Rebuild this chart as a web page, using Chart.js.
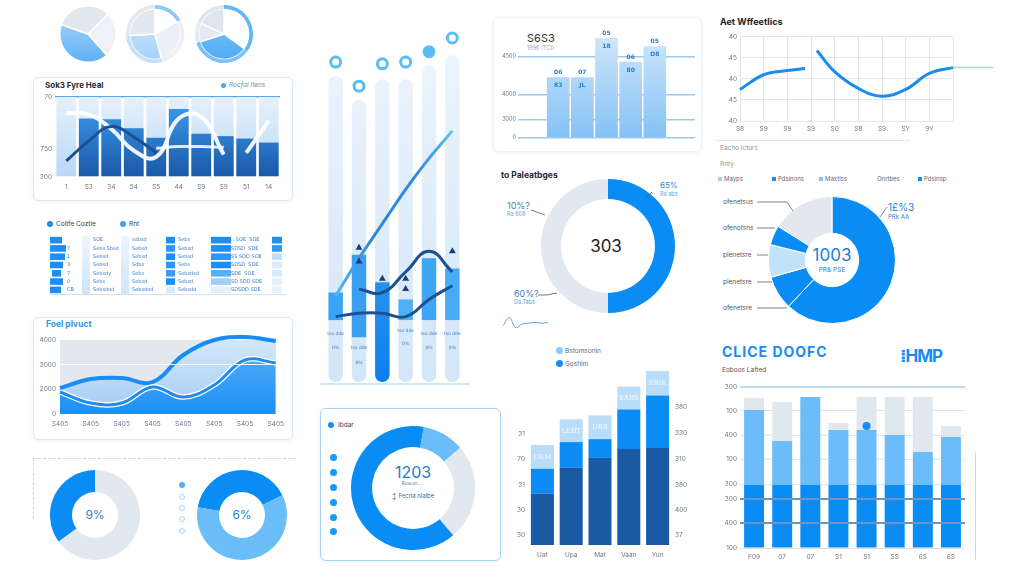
<!DOCTYPE html>
<html>
<head>
<meta charset="utf-8">
<script src="https://cdn.jsdelivr.net/npm/chart.js@4.4.1/dist/chart.umd.min.js"></script>
<style>
body{margin:0;width:1011px;height:578px;background:#fff;position:relative;overflow:hidden;font-family:'Inter','DejaVu Sans',sans-serif;}
.card{position:absolute;border:1px solid #dbe7f3;border-radius:6px;background:#fff;box-shadow:0 1px 4px rgba(70,130,200,0.10);}
.t{position:absolute;white-space:nowrap;line-height:1;}
.c{transform:translate(-50%,-50%);}
.dot{position:absolute;border-radius:50%;}
canvas{position:absolute;}
</style>
</head>
<body>
<!-- panels -->
<div class="card" style="left:33px;top:77px;width:258px;height:122px;"></div>
<div class="card" style="left:33px;top:317px;width:258px;height:121px;"></div>
<div class="card" style="left:493px;top:17px;width:207px;height:133px;border-color:#edf2f8;"></div>
<div class="card" style="left:320px;top:408px;width:179px;height:151px;border-color:#a9d3f3;"></div>
<div style="position:absolute;left:33px;top:458px;width:262px;height:60px;border-top:1px dashed #ccd6e2;border-left:1px dashed #ccd6e2;"></div>
<div style="position:absolute;left:715px;top:140px;width:195px;height:1px;background:#e3e7ec;"></div>
<div style="position:absolute;left:50px;top:294px;width:236px;height:1px;background:#cfe3f6;"></div>
<div style="position:absolute;left:320px;top:383px;width:150px;height:2px;background:#cfe6fa;"></div>
<div style="position:absolute;left:975px;top:452px;width:1px;height:108px;background:#bfdcf4;"></div>

<!-- texts -->
<div class="t" style="left:45px;top:81px;font-size:8px;font-weight:bold;color:#1f2937;">Sok3 Fyre Heal</div>
<div class="dot" style="left:221px;top:83px;width:5px;height:5px;background:#4aa7f0;"></div>
<div class="t" style="left:229px;top:82px;font-size:6.5px;font-style:italic;color:#7d8ca0;">Rocfal Itens</div>

<div class="dot" style="left:47px;top:221px;width:6px;height:6px;background:#1a8cf0;"></div>
<div class="t" style="left:56px;top:221px;font-size:6.5px;color:#334155;">Coltfe Coztle</div>
<div class="dot" style="left:120px;top:221px;width:6px;height:6px;background:#3aa2f2;"></div>
<div class="t" style="left:129px;top:221px;font-size:6.5px;color:#334155;">Rnt</div>

<div class="t" style="left:46px;top:320px;font-size:8.5px;font-weight:bold;color:#2f95e8;">Foel plvuct</div>

<div class="t" style="left:527px;top:33px;font-size:11px;color:#333;">S6S3</div>
<div class="t" style="left:527px;top:46px;font-size:5.5px;color:#9aa5b1;">1996 (TCI)</div>

<div class="t" style="left:720px;top:17px;font-size:9px;font-weight:bold;color:#222;">Aet Wffeetlics</div>
<div class="t" style="left:720px;top:145px;font-size:6.5px;color:#8a96a5;">Eacho lctors</div>
<div class="t" style="left:720px;top:161px;font-size:6.5px;color:#8a96a5;">Rnty</div>
<div style="position:absolute;left:718px;top:177px;width:4px;height:4px;background:#9fd0f7;"></div>
<div class="t" style="left:724px;top:176px;font-size:6px;color:#667;">Mayps</div>
<div style="position:absolute;left:772px;top:177px;width:4px;height:4px;background:#1a8cf0;"></div>
<div class="t" style="left:778px;top:176px;font-size:6px;color:#667;">Pdsinons</div>
<div style="position:absolute;left:819px;top:177px;width:4px;height:4px;background:#7fc2f5;"></div>
<div class="t" style="left:825px;top:176px;font-size:6px;color:#667;">Maxtlss</div>
<div class="t" style="left:877px;top:176px;font-size:6px;color:#667;">Onrtbes</div>
<div style="position:absolute;left:918px;top:177px;width:4px;height:4px;background:#1a8cf0;"></div>
<div class="t" style="left:924px;top:176px;font-size:6px;color:#667;">Pdsinsp</div>

<div class="t" style="left:501px;top:171px;font-size:8.5px;font-weight:bold;color:#1f2937;">to Paleatbges</div>
<div class="t c" style="left:606px;top:246px;font-size:17px;color:#222;">303</div>
<div class="t" style="left:507px;top:201px;font-size:9px;color:#3b82c4;">10%?</div>
<div class="t" style="left:507px;top:212px;font-size:5.5px;color:#5aa3e0;">Ra 608</div>
<div class="t" style="left:514px;top:289px;font-size:9px;color:#3b82c4;">60%?</div>
<div class="t" style="left:514px;top:300px;font-size:5.5px;color:#5aa3e0;">Da.Tabs</div>
<div class="t" style="left:660px;top:181px;font-size:8px;color:#3b82c4;">65%</div>
<div class="t" style="left:660px;top:192px;font-size:5.5px;color:#5aa3e0;">Ba abs</div>

<div class="t c" style="left:832px;top:255px;font-size:17px;color:#1f7fd6;">1003</div>
<div class="t c" style="left:832px;top:270px;font-size:6.5px;color:#2a86da;">PR&amp; PSE</div>
<div class="t" style="left:723px;top:199px;font-size:6.5px;color:#555;">ofenetsus</div>
<div class="t" style="left:723px;top:225px;font-size:6.5px;color:#555;">ofenotsns</div>
<div class="t" style="left:723px;top:252px;font-size:6.5px;color:#555;">plenetsre</div>
<div class="t" style="left:723px;top:279px;font-size:6.5px;color:#555;">plenetsre</div>
<div class="t" style="left:723px;top:305px;font-size:6.5px;color:#555;">ofenetsre</div>
<div class="t" style="left:888px;top:202px;font-size:10px;color:#1a7fd8;">1£%3</div>
<div class="t" style="left:888px;top:214px;font-size:6px;color:#2a86da;">PRk AA</div>

<div class="dot" style="left:556px;top:347px;width:7px;height:7px;background:#8acbf7;"></div>
<div class="t" style="left:565px;top:348px;font-size:6.5px;color:#5a6b80;">Bstomsonin</div>
<div class="dot" style="left:556px;top:360px;width:7px;height:7px;background:#1a8cf0;"></div>
<div class="t" style="left:565px;top:361px;font-size:6.5px;color:#5a6b80;">Goshim</div>

<div class="t" style="left:722px;top:345px;font-size:14px;font-weight:bold;letter-spacing:1px;color:#1a8cf0;">CLICE DOOFC</div>
<div class="t" style="left:722px;top:367px;font-size:6.5px;color:#555;">Eoboos Lafted</div>
<div class="t" style="left:900px;top:348px;font-size:17px;font-weight:bold;color:#1a8cf0;letter-spacing:-1px;">⁞HMP</div>

<div class="dot" style="left:328px;top:422px;width:6px;height:6px;background:#1a8cf0;"></div>
<div class="t" style="left:338px;top:422px;font-size:6.5px;color:#334155;">Ibdar</div>
<div class="dot" style="left:330px;top:454px;width:7px;height:7px;background:#1a9af4;"></div>
<div class="dot" style="left:330px;top:469px;width:7px;height:7px;background:#1a9af4;"></div>
<div class="dot" style="left:330px;top:484px;width:7px;height:7px;background:#1a9af4;"></div>
<div class="dot" style="left:330px;top:499px;width:7px;height:7px;background:#1a9af4;"></div>
<div class="dot" style="left:330px;top:514px;width:7px;height:7px;background:#1a9af4;"></div>
<div class="dot" style="left:330px;top:528px;width:7px;height:7px;background:#1a9af4;"></div>
<div class="t c" style="left:413px;top:472px;font-size:16px;color:#1a7fd6;">1203</div>
<div class="t c" style="left:413px;top:484px;font-size:4.5px;color:#6b7a8c;">Reacen.....</div>
<div class="t c" style="left:413px;top:496px;font-size:6px;color:#4b6b90;">↕ Fecna nlalbe</div>

<div class="t c" style="left:95px;top:515px;font-size:12px;color:#2a7fd0;">9%</div>
<div class="t c" style="left:242px;top:515px;font-size:12px;color:#2a7fd0;">6%</div>
<div class="dot" style="left:179px;top:482px;width:6px;height:6px;background:#4eb0f5;"></div>
<div class="dot" style="left:179px;top:494px;width:4px;height:4px;border:1.5px solid #a9d5f6;"></div>
<div class="dot" style="left:179px;top:505px;width:4px;height:4px;border:1.5px solid #a9d5f6;"></div>
<div class="dot" style="left:179px;top:516px;width:4px;height:4px;border:1.5px solid #a9d5f6;"></div>
<div class="dot" style="left:179px;top:528px;width:4px;height:4px;border:1.5px solid #a9d5f6;"></div>

<script>
// ---------- data ----------
var pieA = [26, 42, 32];
var pieB = [17, 29, 28, 26];
var pieC = [35, 35, 12, 18];

var heatLabels   = ['1', 'S3', '34', '54', 'S5', '44', 'S9', 'S9', '51', '14'];
var heatFull     = [100, 100, 100, 100, 100, 100, 100, 100, 100, 100];
var heatBlue     = [0, 73, 72, 61, 49, 85, 54, 51, 48, 43];
var heatWhiteA   = [80, 78, 60, 33, 25, 73, 75, 28, null, null];
var heatWhiteB   = [null, null, null, null, 36, 38, 38, 37, null, null];
var heatWhiteC   = [null, null, null, null, null, null, null, null, 30, 70];
var heatNavy     = [20, 45, 63, 50, 30, null, null, null, null, null];
var heatTickVals = [0, 35, 100];
var heatTickText = ['300', '750', '70'];

var tblRows   = ['a', 'b', 'c', 'd', 'e', 'f', 'g'];
var tblG1     = [[5, 17], [5, 21], [5, 20], [5, 18], [7, 16], [5, 18], [5, 16]];
var tblPale1  = [[37, 45], [37, 45], [37, 45], [37, 45], [37, 45], [37, 45], [37, 45]];
var tblPale2  = [[76, 84], [76, 84], [76, 84], [76, 84], [76, 84], [76, 84], [76, 84]];
var tblG3     = [[121, 130], [121, 130], [121, 130], [121, 130], [121, 130], [121, 130], [121, 130]];
var tblG4     = [[166, 186], [166, 186], [166, 186], [166, 186], [166, 186], [166, 186], [166, 186]];
var tblG5     = [[227, 237], [227, 237], [227, 237], [227, 237], [227, 237], [227, 237], [227, 237]];
var tblNum    = ['', '7', '1', '3', '7', '0', 'CB'];
var tblTextA  = ['SOE', 'Sebs Sbsd', 'Sebsd', 'Sebsd', 'Sebsdy', 'Sebs', 'Sebsdnd'];
var tblTextB  = ['sdbsd', 'Sebsd', 'Sebsd', 'Sdbs', 'Sebs', 'Sebsd', 'Sebsdnd'];
var tblTextC  = ['Sebs', 'Sebsd', 'Sebsd', 'Sebs', 'Sebsdsd', 'Sebsd', 'Sebsdd'];
var tblTextD  = ['.. SOE  SOE', 'SDSD  SDE', 'SS SOD SOE', 'SDSD  SDE', 'SDE  SOE', 'SD SDD SDE', 'SDSDD SDE'];

var prodLabels   = ['S405', 'S405', 'S405', 'S405', 'S405', 'S405', 'S405', 'S405'];
var prodTop      = [1054, 1419, 1459, 1297, 2392, 3000, 3122, 2959];
var prodMid      = [892, 446, 446, 1095, 689, 1176, 2189, 2068];
var prodTickText = ['0', '2000', '3000', '4000'];

var colLabels = ['c1', 'c2', 'c3', 'c4', 'c5', 'c6'];
var colTop    = [89, 82, 88, 88, 92, 95];
var colSeg    = [[18, 26], [13, 37], [0, 29], [18, 24], [18, 36], [18, 33]];
var colRing   = [93, 86, 92.5, 93, 96, 100];
var colRise   = [25, 36, 46, 56, 65, 73];
var colNavyA  = [19, 20, 20, 19, 24, 28];
var colNavyB  = [null, 27, 26, 32, 38, 32];
var colMarks  = [{x: 'c2', y: 39}, {x: 'c2', y: 35}, {x: 'c3', y: 30}, {x: 'c4', y: 30}, {x: 'c4', y: 27}, {x: 'c6', y: 38}];

var s6Vals     = [74, 74, 122, 93, 112];
var s6Top      = ['06', '07', '05', '06', '05'];
var s6Inner    = ['83', 'JL', '18', '80', 'D8'];
var s6TickVals = [0, 22, 53, 100];
var s6TickText = ['0', '3000', '4000', '4500'];

var aetLabels = ['S8', 'S9', 'S9', 'S9', 'S0', 'S8', 'S9', 'SY', '9Y'];
var aetA      = [{x: 0, y: 1.5}, {x: 1, y: 2.2}, {x: 2, y: 2.4}, {x: 2.75, y: 2.5}];
var aetB      = [{x: 3.25, y: 3.35}, {x: 4, y: 2.35}, {x: 5, y: 1.55}, {x: 6, y: 1.18}, {x: 7, y: 1.5}, {x: 8, y: 2.26}, {x: 9, y: 2.54}];
var aetTail   = [{x: 9, y: 2.54}, {x: 10.7, y: 2.54}];
var aetTicks  = ['40', '45', '40', '45', '40'];

var paleVals  = [50, 50];
var squiggle  = [3, 13, 0, 5, 6, 7, 6, 7];
var ringVals  = [62, 8.6, 8.3, 5, 16.1];

var stkLabels = ['Uat', 'Upa', 'Mat', 'Vaan', 'Yun'];
var stkDark   = [52, 78, 88, 97, 98];
var stkMid    = [25, 26, 19, 40, 53];
var stkLight  = [24, 23, 24, 23, 25];
var stkTags   = ['DEM', 'LEBT', 'DBX', 'EARS', 'EBIK'];
var stkLeftVals  = [10, 35, 61, 87, 112];
var stkLeftText  = ['30', '30', '31', '70', '31'];
var stkRightVals = [10, 35, 61, 87, 113, 139];
var stkRightText = ['37', '400', '380', '310', '330', '380'];

var clLabels   = ['F09', '07', '07', 'S1', 'S1', 'SS', '6S', '6S'];
var clBase     = [63, 63, 63, 63, 63, 63, 63, 63];
var clMid      = [75, 44, 88, 55, 55, 50, 33, 48];
var clTop      = [12, 39, 0, 7, 33, 38, 55, 11];
var clDot      = [null, null, null, null, 122, null, null, null];
var clTickVals = [0, 25, 49, 64, 89, 113, 137, 161];
var clTickText = ['100', '400', '300', '300', '100', '400', '100', '300'];

var ibdarVals = [11, 25, 64];
var donutA    = [65, 35];
var donutB    = [40, 60];

// ---------- setup ----------
Chart.defaults.font.family = "'Inter','DejaVu Sans',sans-serif";
Chart.defaults.font.size = 6.5;
Chart.defaults.color = '#6b7785';
Chart.defaults.animation = false;
Chart.defaults.responsive = false;
Chart.defaults.plugins.legend.display = false;
Chart.defaults.plugins.tooltip.enabled = false;

function mk(x, y, w, h, cfg) {
    var c = document.createElement('canvas');
    c.width = w; c.height = h;
    c.style.left = x + 'px'; c.style.top = y + 'px';
    document.body.appendChild(c);
    return new Chart(c.getContext('2d'), cfg);
}
function vgrad(c1, c2) {
    return function (ctx) {
        var a = ctx.chart.chartArea;
        if (!a) return c1;
        var g = ctx.chart.ctx.createLinearGradient(0, a.top, 0, a.bottom);
        g.addColorStop(0, c1); g.addColorStop(1, c2);
        return g;
    };
}
// per-slice colours where some entries are gradients
function perIndex(list) {
    return function (c) {
        var v = list[c.dataIndex];
        return typeof v === 'function' ? v(c) : v;
    };
}
function fixW(w) { return function (s) { s.width = w; }; }
function fixH(h) { return function (s) { s.height = h; }; }
function setTicks(vals) { return function (s) { s.ticks = vals.map(function (v) { return {value: v}; }); }; }
function pick(arr) { return function (v, i) { return arr[i]; }; }

// text at data coordinates
Chart.register({
    id: 'tags',
    afterDatasetsDraw: function (chart, args, o) {
        if (!o.items) return;
        var c = chart.ctx, xs = chart.scales.x, ys = chart.scales.y;
        c.save();
        c.font = o.font || "6px 'DejaVu Sans'";
        c.fillStyle = o.color || '#333';
        c.textAlign = o.align || 'center';
        c.textBaseline = 'middle';
        o.items.forEach(function (it) { c.fillText(it[2], xs.getPixelForValue(it[0]), ys.getPixelForValue(it[1])); });
        c.restore();
    }
});
// leader lines for callouts
Chart.register({
    id: 'leaders',
    afterDraw: function (chart, args, o) {
        if (!o.lines) return;
        var c = chart.ctx;
        c.save(); c.strokeStyle = o.color || '#666'; c.lineWidth = 0.8;
        o.lines.forEach(function (p) {
            c.beginPath(); c.moveTo(p[0], p[1]);
            for (var i = 2; i < p.length; i += 2) c.lineTo(p[i], p[i + 1]);
            c.stroke();
        });
        c.restore();
    }
});
// plot background / extra lines
Chart.register({
    id: 'plotBg',
    beforeDatasetsDraw: function (chart, args, o) {
        if (!o.color) return;
        var a = chart.chartArea, c = chart.ctx;
        c.save(); c.fillStyle = o.color; c.fillRect(a.left, a.top, a.right - a.left, a.bottom - a.top); c.restore();
    },
    afterDatasetsDraw: function (chart, args, o) {
        if (!o.lines) return;
        var a = chart.chartArea, c = chart.ctx, ys = chart.scales.y;
        c.save(); c.strokeStyle = o.lineColor; c.lineWidth = 2;
        o.lines.forEach(function (v) {
            var y = ys.getPixelForValue(v);
            c.beginPath(); c.moveTo(a.left, y); c.lineTo(a.right, y); c.stroke();
        });
        c.restore();
    }
});

// ---------- top-left pies ----------
mk(59, 5, 58, 58, {
    type: 'pie',
    data: {datasets: [{data: pieA, backgroundColor: perIndex(['#eef1f5', vgrad('#b5dafa', '#5fb0f5'), '#e2e7ee']), borderColor: '#fff', borderWidth: 1.5}]},
    options: {rotation: 45}
});
mk(126, 5, 58, 58, {
    type: 'doughnut',
    data: {datasets: [
        {data: pieB, weight: 1, backgroundColor: ['#8ccaf7', '#eceff3', '#c4e1fb', '#e3e8ee'], borderWidth: 0},
        {data: pieB, weight: 7, backgroundColor: perIndex(['#ffffff', '#eceff3', vgrad('#d7ebfc', '#a2cff7'), '#e3e8ee']), borderColor: '#fff', borderWidth: 1.5}
    ]},
    options: {cutout: 0}
});
mk(195, 5, 58, 58, {
    type: 'doughnut',
    data: {datasets: [
        {data: pieC, weight: 1, backgroundColor: ['#5fb8f6', '#78c0f7', '#e6eaf0', '#dfe5ec'], borderWidth: 0},
        {data: pieC, weight: 7, backgroundColor: perIndex(['#ffffff', vgrad('#8fcbf8', '#4aa8f4'), '#e6eaf0', '#dfe5ec']), borderColor: '#fff', borderWidth: 1.5}
    ]},
    options: {cutout: 0}
});

// ---------- Sok3 Fyre Heal ----------
mk(33, 90, 252, 105, {
    type: 'bar',
    data: {labels: heatLabels, datasets: [
        {type: 'line', data: heatNavy, borderColor: '#1d4f91', borderWidth: 3, tension: 0.45, pointRadius: 0, order: 0},
        {type: 'line', data: heatWhiteA, borderColor: 'rgba(255,255,255,0.92)', borderWidth: 4, tension: 0.45, pointRadius: 0, order: 1},
        {type: 'line', data: heatWhiteB, borderColor: 'rgba(255,255,255,0.85)', borderWidth: 3, tension: 0.45, pointRadius: 0, order: 1},
        {type: 'line', data: heatWhiteC, borderColor: 'rgba(255,255,255,0.92)', borderWidth: 4, tension: 0.45, pointRadius: 0, order: 1},
        {data: heatBlue, backgroundColor: vgrad('#3f9ff3', '#1a58a6'), grouped: false, barPercentage: 1, categoryPercentage: 0.88, order: 3},
        {data: heatFull, backgroundColor: vgrad('#e6f1fc', '#b7d8f6'), grouped: false, barPercentage: 1, categoryPercentage: 0.88, order: 4}
    ]},
    options: {
        layout: {padding: {top: 5, right: 5}},
        scales: {
            x: {grid: {display: false, drawTicks: false}, border: {display: false}, ticks: {padding: 6, maxRotation: 0, autoSkip: false}, afterFit: fixH(18)},
            y: {min: 0, max: 100, afterBuildTicks: setTicks(heatTickVals), ticks: {callback: pick(heatTickText), padding: 3},
                grid: {drawTicks: false, lineWidth: 1.5, color: function (c) { return c.tick && c.tick.value === 100 ? '#5aa6ec' : 'rgba(0,0,0,0)'; }},
                border: {display: false}, afterFit: fixW(22)}
        }
    }
});

// ---------- table-like bars ----------
var tblItems = [];
[[22, tblNum], [48, tblTextA], [87, tblTextB], [133, tblTextC], [186, tblTextD]].forEach(function (col) {
    col[1].forEach(function (s, r) { tblItems.push([col[0], r, s]); });
});
var blueA = '#1e8ef2', blueB = '#2f97f3', paleC = '#d9eafb';
mk(45, 236, 245, 58, {
    type: 'bar',
    data: {labels: tblRows, datasets: [
        {data: tblG1, backgroundColor: blueA, grouped: false, barPercentage: 0.8, categoryPercentage: 1},
        {data: tblPale1, backgroundColor: vgrad('#eef5fd', '#cfe4f9'), grouped: false, barPercentage: 1.05, categoryPercentage: 1},
        {data: tblPale2, backgroundColor: vgrad('#eef5fd', '#cfe4f9'), grouped: false, barPercentage: 1.05, categoryPercentage: 1},
        {data: tblG3, backgroundColor: [blueA, blueB, blueA, blueB, '#3a9df4', blueA, paleC], grouped: false, barPercentage: 0.8, categoryPercentage: 1},
        {data: tblG4, backgroundColor: [blueA, blueA, blueB, blueA, '#56b0f6', '#9fd0f8', '#e3effb'], grouped: false, barPercentage: 0.8, categoryPercentage: 1},
        {data: tblG5, backgroundColor: [blueA, blueB, '#bfe0fb', paleC, paleC, '#e6f1fc', '#e6f1fc'], grouped: false, barPercentage: 0.8, categoryPercentage: 1}
    ]},
    options: {
        indexAxis: 'y',
        scales: {x: {display: false, min: 0, max: 245}, y: {display: false}},
        plugins: {tags: {items: tblItems, align: 'left', font: "5px 'DejaVu Sans'", color: '#3b78c2'}}
    }
});

// ---------- Foel plvuct ----------
mk(35, 332, 255, 100, {
    type: 'line',
    data: {labels: prodLabels, datasets: [
        {data: prodMid, borderColor: '#1a8cf5', borderWidth: 3, tension: 0.4, pointRadius: 0, fill: false, order: 0},
        {data: prodMid, borderColor: '#ffffff', borderWidth: 5.5, tension: 0.4, pointRadius: 0, fill: 'origin', backgroundColor: vgrad('#5cb2f8', '#1c8ff5'), order: 1},
        {data: prodTop, borderColor: '#1a8cf5', borderWidth: 4, tension: 0.4, pointRadius: 0, fill: 'origin', backgroundColor: vgrad('#d3e7f9', '#a2ccf4'), clip: false, order: 2}
    ]},
    options: {
        layout: {padding: {top: 8, right: 2}},
        scales: {
            x: {offset: false, grid: {display: false, drawTicks: false}, border: {display: false}, ticks: {maxRotation: 0, autoSkip: false, padding: 6}, afterFit: fixH(18)},
            y: {min: 0, max: 3000, ticks: {stepSize: 1000, callback: pick(prodTickText), padding: 4},
                grid: {z: 1, drawTicks: false, color: function (c) { return c.tick && c.tick.value === 2000 ? 'rgba(255,255,255,0.9)' : 'rgba(0,0,0,0)'; }},
                border: {display: false}, afterFit: fixW(25)}
        },
        plugins: {plotBg: {color: '#e3e8ef'}}
    }
});

// ---------- tall column bars ----------
function riseGrad(ctx) {
    var a = ctx.chart.chartArea;
    if (!a) return '#2f86dd';
    var g = ctx.chart.ctx.createLinearGradient(a.left, 0, a.right, 0);
    g.addColorStop(0, '#5cc8fb'); g.addColorStop(0.35, '#2f86dd'); g.addColorStop(0.65, '#2f8ae0'); g.addColorStop(1, '#6fd2fb');
    return g;
}
mk(316, 30, 156, 360, {
    type: 'bar',
    data: {labels: colLabels, datasets: [
        {type: 'line', data: colMarks, showLine: false, pointStyle: 'triangle', pointRadius: 4, pointBackgroundColor: '#1c3d78', pointBorderWidth: 0, order: 0},
        {type: 'line', data: colRing, showLine: false, pointRadius: 5, pointBorderWidth: 3, pointBorderColor: '#5bbdf6',
         pointBackgroundColor: ['#fff', '#fff', '#fff', '#fff', '#5bbdf6', '#fff'], clip: false, order: 0},
        {type: 'line', data: colNavyB, borderColor: '#1d4f91', borderWidth: 3, tension: 0.45, pointRadius: 0, order: 1},
        {type: 'line', data: colNavyA, borderColor: '#1d4f91', borderWidth: 3, tension: 0.45, pointRadius: 0, order: 1},
        {type: 'line', data: colRise, borderColor: riseGrad, borderWidth: 3, tension: 0.3, pointRadius: 0, order: 1},
        {data: colSeg, backgroundColor: perIndex(['#3aa5f5', '#3a9ff0', vgrad('#6cbcf8', '#0a80ee'), '#4fb0f5', '#3ea6f5', '#48acf5']),
         borderRadius: function (c) { return c.dataIndex === 2 ? {topLeft: 0, topRight: 0, bottomLeft: 8, bottomRight: 8} : 0; },
         borderSkipped: false, grouped: false, barPercentage: 0.62, categoryPercentage: 1, order: 2},
        {data: colTop, backgroundColor: vgrad('#eef4fc', '#d2e6f8'), borderRadius: 8, borderSkipped: false, grouped: false, barPercentage: 0.62, categoryPercentage: 1, order: 3}
    ]},
    options: {
        layout: {padding: {top: 7, bottom: 8}},
        scales: {x: {display: false}, y: {display: false, min: 0, max: 100}},
        plugins: {tags: {font: "4.5px 'DejaVu Sans'", color: '#3d7fc4', items: [
            [0, 14, 'tso dde'], [0, 10, '0%'], [1, 10, 'tso dde'], [1, 5.5, '0%'],
            [3, 15, 'tso dde'], [3, 11, '0%'], [4, 14, 'tso dde'], [4, 10, '0%'], [5, 14, 'tso dde'], [5, 10, '0%']
        ]}}
    }
});

// ---------- S6S3 bars ----------
var s6Items = [];
s6Vals.forEach(function (v, i) { s6Items.push([i, v + 6, s6Top[i]]); s6Items.push([i, v - 10, s6Inner[i]]); });
mk(500, 30, 195, 113, {
    type: 'bar',
    data: {datasets: [{data: s6Vals.map(function (v, i) { return {x: i, y: v}; }), backgroundColor: vgrad('#cfe6fc', '#84c2f5'), barThickness: 22}]},
    options: {
        layout: {padding: {top: 6, bottom: 1}},
        scales: {
            x: {type: 'linear', min: -0.75, max: 4.75, display: false},
            y: {min: 0, max: 125, afterBuildTicks: setTicks(s6TickVals), ticks: {callback: pick(s6TickText), font: {size: 5.5}, padding: 2},
                grid: {color: '#9ccbf2', lineWidth: 1.5, drawTicks: false}, border: {display: false}, afterFit: fixW(18)}
        },
        plugins: {tags: {items: s6Items, font: "bold 6px 'DejaVu Sans'", color: '#1f7fd6'}}
    }
});

// ---------- Aet Wffeetlics ----------
mk(718, 30, 280, 105, {
    type: 'line',
    data: {datasets: [
        {data: aetTail, borderColor: '#a8d4f8', borderWidth: 1.5, pointRadius: 0, clip: false},
        {data: aetA, borderColor: '#1a8cf0', borderWidth: 3, tension: 0.4, pointRadius: 0, clip: false},
        {data: aetB, borderColor: '#1a8cf0', borderWidth: 3, tension: 0.4, pointRadius: 0, clip: false}
    ]},
    options: {
        layout: {padding: {top: 5, right: 45}},
        scales: {
            x: {type: 'linear', min: 0, max: 9, ticks: {stepSize: 1, callback: function (v) { return aetLabels[v] || ''; }, maxRotation: 0, padding: 4},
                grid: {color: '#e1e5ea', drawTicks: false}, border: {display: false}, afterFit: fixH(14)},
            y: {min: 0, max: 4, ticks: {stepSize: 1, callback: pick(aetTicks), padding: 3},
                grid: {color: '#e1e5ea', drawTicks: false}, border: {display: false}, afterFit: fixW(22)}
        }
    }
});

// ---------- to Paleatbges donut ----------
mk(495, 170, 205, 155, {
    type: 'doughnut',
    data: {datasets: [{data: paleVals, backgroundColor: ['#0a8cf5', '#e2e8f0'], borderWidth: 0}]},
    options: {
        cutout: '70%',
        layout: {padding: {left: 46, right: 25, top: 9, bottom: 12}},
        plugins: {leaders: {color: '#555', lines: [[36, 40, 50, 45], [43, 125, 52, 125, 62, 123], [157, 22, 151, 28]]}}
    }
});
mk(503, 312, 45, 16, {
    type: 'line',
    data: {labels: squiggle.map(function (v, i) { return i; }), datasets: [{data: squiggle, borderColor: '#4aa3ee', borderWidth: 1, tension: 0.4, pointRadius: 0}]},
    options: {scales: {x: {display: false}, y: {display: false}}}
});

// ---------- right donut with callouts ----------
mk(715, 188, 285, 142, {
    type: 'doughnut',
    data: {datasets: [{data: ringVals, backgroundColor: ['#0a8cf5', '#0a8cf5', '#c2e1fb', '#0a8cf5', '#e3e8ef'], borderColor: '#fff', borderWidth: 1}]},
    options: {
        cutout: '42%',
        layout: {padding: {left: 53, right: 104, top: 8, bottom: 6}},
        plugins: {leaders: {color: '#666', lines: [
            [42, 14, 72, 14, 78, 23], [42, 40, 60, 40], [42, 67, 53, 67], [42, 94, 57, 94], [42, 120, 72, 120], [165, 29, 172, 19]
        ]}}
    }
});

// ---------- stacked bars (middle bottom) ----------
var stkItems = stkTags.map(function (s, i) { return [i, stkDark[i] + stkMid[i] + stkLight[i] / 2, s]; });
mk(505, 360, 190, 200, {
    type: 'bar',
    data: {labels: stkLabels, datasets: [
        {data: stkDark, backgroundColor: '#1a5aa5', barPercentage: 0.8, categoryPercentage: 1},
        {data: stkMid, backgroundColor: '#0b8cf5', barPercentage: 0.8, categoryPercentage: 1},
        {data: stkLight, backgroundColor: '#b9dcf8', barPercentage: 0.8, categoryPercentage: 1}
    ]},
    options: {
        layout: {padding: {top: 5}},
        scales: {
            x: {stacked: true, grid: {display: false, drawTicks: false}, border: {display: false}, ticks: {padding: 6}, afterFit: fixH(15)},
            y: {stacked: true, min: 0, max: 180, afterBuildTicks: setTicks(stkLeftVals), ticks: {callback: pick(stkLeftText)},
                grid: {display: false, drawTicks: false}, border: {display: false}, afterFit: fixW(23)},
            y2: {position: 'right', min: 0, max: 180, afterBuildTicks: setTicks(stkRightVals), ticks: {callback: pick(stkRightText)},
                grid: {display: false, drawTicks: false}, border: {display: false}, afterFit: fixW(23)}
        },
        plugins: {tags: {items: stkItems, font: "7px 'DejaVu Serif'", color: '#f4faff'}}
    }
});

// ---------- CLICE DOOFC ----------
mk(715, 380, 265, 182, {
    type: 'bar',
    data: {labels: clLabels, datasets: [
        {type: 'line', data: clDot, pointRadius: 4, pointBackgroundColor: '#1a8cf0', pointBorderWidth: 0, showLine: false},
        {data: clBase, backgroundColor: '#0a8cf5', barPercentage: 0.71, categoryPercentage: 1},
        {data: clMid, backgroundColor: '#6bbcf8', barPercentage: 0.71, categoryPercentage: 1},
        {data: clTop, backgroundColor: '#e1e7ee', barPercentage: 0.71, categoryPercentage: 1}
    ]},
    options: {
        layout: {padding: {top: 7, right: 15}},
        scales: {
            x: {stacked: true, grid: {display: false, drawTicks: false}, border: {display: false}, ticks: {padding: 5}, afterFit: fixH(14)},
            y: {stacked: true, min: 0, max: 161, afterBuildTicks: setTicks(clTickVals), ticks: {callback: pick(clTickText), padding: 3},
                grid: {drawTicks: false, lineWidth: function (c) { return c.tick && c.tick.value === 161 ? 2 : 1; },
                       color: function (c) { return c.tick && c.tick.value === 161 ? '#bcdaf2' : '#dde3ea'; }},
                border: {display: false}, afterFit: fixW(25)}
        },
        plugins: {plotBg: {lines: [25, 49], lineColor: '#6f93bd'}}
    }
});

// ---------- Ibdar donut ----------
mk(351, 426, 124, 124, {
    type: 'doughnut',
    data: {datasets: [{data: ibdarVals, backgroundColor: ['#6bbdf8', '#e2e8f0', '#0a8cf5'], borderWidth: 0}]},
    options: {cutout: '66%', rotation: 10}
});

// ---------- bottom-left donuts ----------
mk(50, 470, 90, 90, {
    type: 'doughnut',
    data: {datasets: [{data: donutA, backgroundColor: ['#e2e8f0', '#0a8cf5'], borderWidth: 0}]},
    options: {cutout: '51%'}
});
mk(197, 470, 90, 90, {
    type: 'doughnut',
    data: {datasets: [{data: donutB, backgroundColor: ['#0a8cf5', '#6bbdf8'], borderWidth: 0}]},
    options: {cutout: '51%', rotation: 280}
});
</script>
</body>
</html>
